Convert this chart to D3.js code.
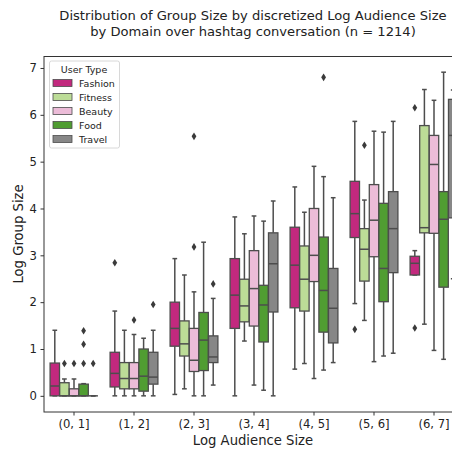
<!DOCTYPE html>
<html>
<head>
<meta charset="utf-8">
<script src="https://cdn.jsdelivr.net/npm/d3@7"></script>
<style>
  body { margin: 0; background: #fff; }
  svg { display: block; font-family: "DejaVu Sans", sans-serif; }
</style>
</head>
<body>
<div id="chart"></div>
<script>
// categories on the x axis
const bins = ["(0, 1]", "(1, 2]", "(2, 3]", "(3, 4]", "(4, 5]", "(5, 6]", "(6, 7]"];
const userTypes = ["Fashion", "Fitness", "Beauty", "Food", "Travel"];
const yTicks = [0, 1, 2, 3, 4, 5, 6, 7];

// box stats per bin: [lower whisker, q1, median, q3, upper whisker]
const fashion = [
  [0, 0, 0.21, 0.70, 1.40], [0, 0.19, 0.48, 0.93, 1.81], [0.03, 1.06, 1.44, 2.00, 2.93],
  [0, 1.44, 2.15, 2.93, 3.82], [0.57, 1.88, 2.79, 3.60, 4.46], [1.97, 3.38, 3.89, 4.58, 5.86],
  [2.58, 2.58, 2.83, 2.98, 3.10]
];
const fitness = [
  [0, 0, 0, 0.28, 0.36], [0, 0.15, 0.37, 0.71, 1.40], [0.15, 0.85, 1.11, 1.60, 2.58],
  [1.17, 1.58, 1.92, 2.49, 3.46], [0.69, 1.81, 2.49, 3.20, 3.92], [1.61, 2.45, 3.13, 3.57, 4.18],
  [1.53, 3.48, 3.59, 5.77, 6.54]
];
const beauty = [
  [0, 0, 0, 0.15, 0.36], [0, 0.15, 0.37, 0.71, 1.31], [0, 0.52, 0.76, 1.44, 2.22],
  [0.23, 1.49, 2.29, 3.10, 3.84], [0.37, 2.44, 3.00, 4.00, 4.90], [0.73, 2.97, 3.75, 4.51, 5.65],
  [0.97, 3.47, 4.94, 5.56, 6.31]
];
const food = [
  [0, 0, 0, 0.25, 0.26], [0, 0.10, 0.42, 1.00, 1.23], [0, 0.54, 1.19, 1.78, 3.28],
  [0.12, 1.15, 1.94, 2.36, 3.73], [0.55, 1.36, 2.25, 3.39, 4.68], [0.85, 2.01, 2.72, 4.11, 5.63],
  [0.78, 2.32, 3.77, 4.36, 6.91]
];
const travel = [
  [0, 0, 0, 0, 0], [0, 0.25, 0.40, 0.93, 1.40], [0.23, 0.71, 0.83, 1.28, 2.08],
  [0, 1.79, 2.82, 3.48, 4.16], [0.71, 1.13, 1.87, 2.72, 4.23], [0.91, 2.63, 3.57, 4.36, 5.86],
  [2.50, 3.80, 5.56, 6.33, 6.53]
];

// outliers: [bin index, value]
const fashionOut = [[1, 2.84], [5, 1.42], [6, 6.15], [6, 1.45]];
const fitnessOut = [[0, 0.69], [5, 5.35]];
const beautyOut = [[0, 0.69], [1, 1.62], [2, 3.18], [2, 5.54]];
const foodOut = [[0, 0.69], [0, 1.10], [0, 1.39], [4, 6.80]];
const travelOut = [[0, 0.69], [1, 1.95], [2, 2.39]];

const stats = { Fashion: fashion, Fitness: fitness, Beauty: beauty, Food: food, Travel: travel };
const outliers = { Fashion: fashionOut, Fitness: fitnessOut, Beauty: beautyOut, Food: foodOut, Travel: travelOut };

const colors = {
  Fashion: "#c2297e", Fitness: "#bcdc97", Beauty: "#ecbcd8", Food: "#509d32", Travel: "#878787"
};
const lineColor = "#4d4d4d";

const width = 452, height = 450;
const margin = { top: 56.5, left: 44, right: 464, bottom: 412 };

const svg = d3.select("#chart").append("svg")
  .attr("width", width)
  .attr("height", height);

const x = d3.scaleBand().domain(bins).range([margin.left, margin.right]);
const hue = d3.scaleBand().domain(userTypes).range([-0.4 * x.bandwidth(), 0.4 * x.bandwidth()]);
const y = d3.scaleLinear().domain([-0.345, 7.245]).range([margin.bottom, margin.top]);

const boxW = hue.bandwidth() * 0.98;

// title
svg.append("text")
  .attr("x", 253).attr("y", 20)
  .attr("text-anchor", "middle")
  .attr("font-size", 13.1).attr("fill", "#222")
  .text("Distribution of Group Size by discretized Log Audience Size");
svg.append("text")
  .attr("x", 253).attr("y", 36)
  .attr("text-anchor", "middle")
  .attr("font-size", 13.1).attr("fill", "#222")
  .text("by Domain over hashtag conversation (n = 1214)");

// boxes
const plot = svg.append("g");
userTypes.forEach(t => {
  stats[t].forEach((s, i) => {
    const cx = x(bins[i]) + x.bandwidth() / 2 + hue(t) + hue.bandwidth() / 2;
    const [lo, q1, med, q3, hi] = s;
    const g = plot.append("g");
    // whiskers
    g.append("line").attr("x1", cx).attr("x2", cx).attr("y1", y(q3)).attr("y2", y(hi))
      .attr("stroke", lineColor).attr("stroke-width", 1.5);
    g.append("line").attr("x1", cx).attr("x2", cx).attr("y1", y(q1)).attr("y2", y(lo))
      .attr("stroke", lineColor).attr("stroke-width", 1.5);
    // caps
    [lo, hi].forEach(v => {
      g.append("line").attr("x1", cx - boxW / 4).attr("x2", cx + boxW / 4)
        .attr("y1", y(v)).attr("y2", y(v))
        .attr("stroke", lineColor).attr("stroke-width", 1.5);
    });
    // box
    g.append("rect")
      .attr("x", cx - boxW / 2).attr("width", boxW)
      .attr("y", y(q3)).attr("height", Math.max(0, y(q1) - y(q3)))
      .attr("fill", colors[t])
      .attr("stroke", lineColor).attr("stroke-width", 1.3);
    // median
    g.append("line").attr("x1", cx - boxW / 2).attr("x2", cx + boxW / 2)
      .attr("y1", y(med)).attr("y2", y(med))
      .attr("stroke", lineColor).attr("stroke-width", 1.5);
  });
  // outliers as diamonds
  outliers[t].forEach(([i, v]) => {
    const cx = x(bins[i]) + x.bandwidth() / 2 + hue(t) + hue.bandwidth() / 2;
    const cy = y(v);
    plot.append("path")
      .attr("d", `M${cx},${cy - 3.8}L${cx + 2.4},${cy}L${cx},${cy + 3.8}L${cx - 2.4},${cy}Z`)
      .attr("fill", "#3a3a3a");
  });
});

// axes
const yAxis = svg.append("g")
  .attr("transform", `translate(${margin.left},0)`)
  .call(d3.axisLeft(y).tickValues(yTicks).tickSize(3.5).tickPadding(3.5));
const xAxis = svg.append("g")
  .attr("transform", `translate(0,${margin.bottom})`)
  .call(d3.axisBottom(x).tickSize(3.5).tickPadding(4));
[yAxis, xAxis].forEach(a => {
  a.select(".domain").remove();
  a.selectAll("line").attr("stroke", "#333");
  a.selectAll("text").attr("font-size", 11.6).attr("fill", "#222")
    .attr("font-family", "DejaVu Sans, sans-serif");
});

// spines
svg.append("rect")
  .attr("x", margin.left).attr("y", margin.top)
  .attr("width", margin.right - margin.left).attr("height", margin.bottom - margin.top)
  .attr("fill", "none").attr("stroke", "#333").attr("stroke-width", 1);

// axis labels
svg.append("text")
  .attr("x", 253).attr("y", 444.5)
  .attr("text-anchor", "middle").attr("font-size", 13.2).attr("fill", "#222")
  .text("Log Audience Size");
svg.append("text")
  .attr("transform", "translate(23,234) rotate(-90)")
  .attr("text-anchor", "middle").attr("font-size", 13.2).attr("fill", "#222")
  .text("Log Group Size");

// legend
const legend = svg.append("g");
legend.append("rect")
  .attr("x", 49.5).attr("y", 61).attr("width", 70).attr("height", 87)
  .attr("rx", 2).attr("fill", "#fff").attr("stroke", "#d8d8d8");
legend.append("text")
  .attr("x", 84).attr("y", 73)
  .attr("text-anchor", "middle").attr("font-size", 9.5).attr("fill", "#222")
  .text("User Type");
userTypes.forEach((t, i) => {
  const yy = 83 + i * 14;
  legend.append("rect")
    .attr("x", 53).attr("y", yy - 3.5).attr("width", 19).attr("height", 7)
    .attr("fill", colors[t]).attr("stroke", lineColor).attr("stroke-width", 0.8);
  legend.append("text")
    .attr("x", 79).attr("y", yy + 3.5)
    .attr("font-size", 9.5).attr("fill", "#222")
    .text(t);
});
</script>
</body>
</html>
